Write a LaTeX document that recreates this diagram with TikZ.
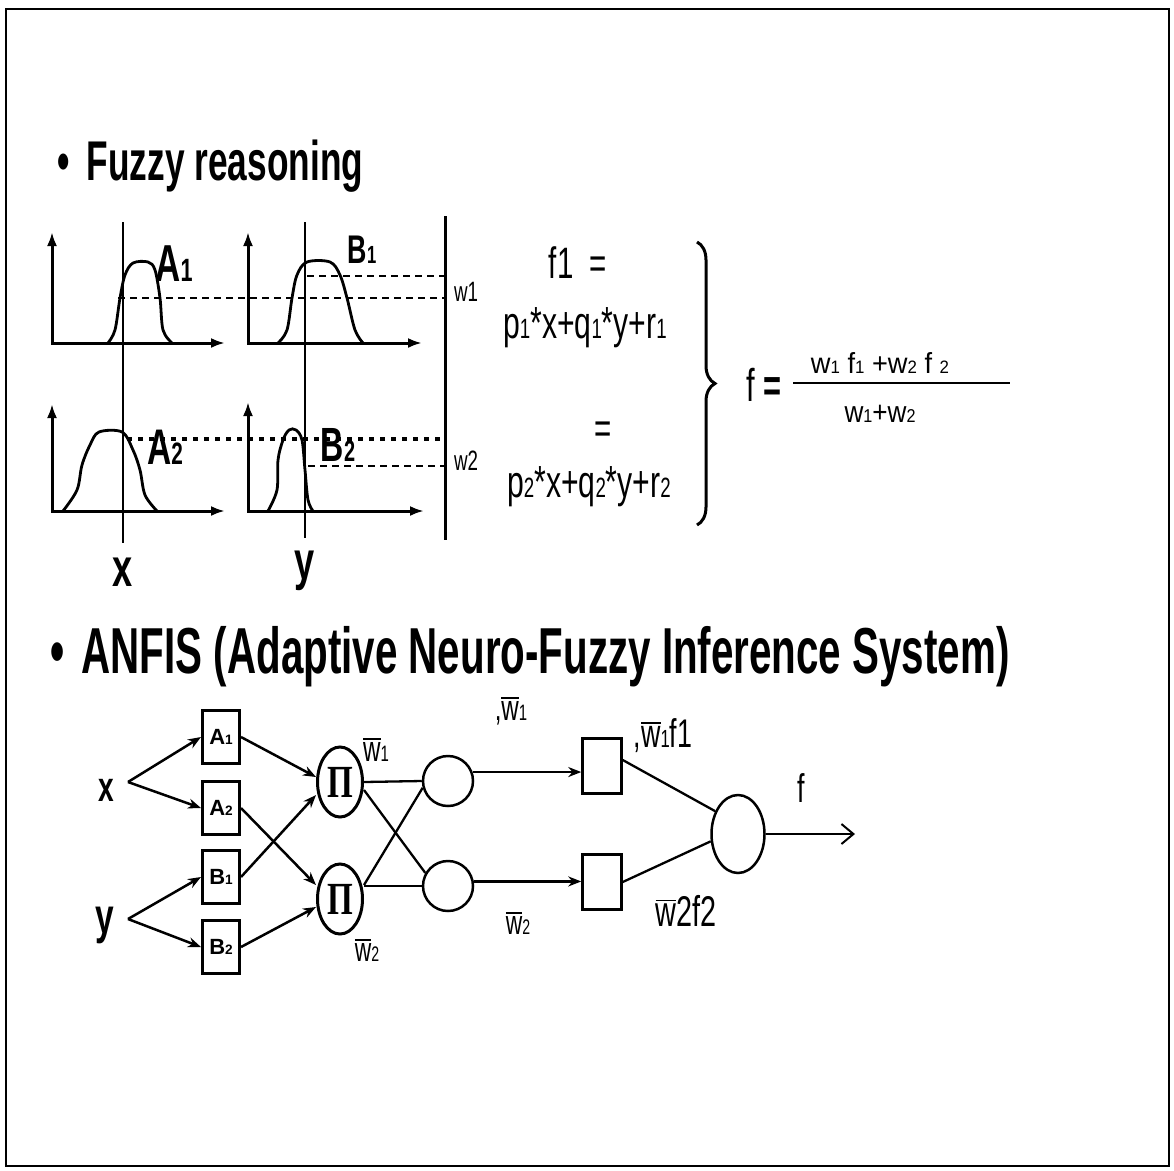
\documentclass[tikz,border=0pt]{standalone}
\usepackage{fontspec}
\setmainfont{Liberation Sans}
\newfontfamily\pifont{Liberation Serif}
\usetikzlibrary{arrows.meta,shapes.geometric,decorations.pathreplacing}
\makeatletter
\newcommand\smd[1]{{\fontsize{\fpeval{0.62*\f@size}}{1}\selectfont #1}}
\makeatother
\newcommand\barw{\leavevmode\setbox0\hbox{w}\vbox{\hrule height 1.8pt width \wd0\kern 2.5pt\box0}}
\newcommand\fs[1]{\fontsize{#1}{#1}\selectfont}
\begin{document}
\begin{tikzpicture}[x=1pt,y=-1pt,
  txt/.style={inner sep=0pt, xscale=0.67},
  hd/.style={inner sep=0pt, xscale=0.63, anchor=base west},
  ax/.style={line width=3pt, {Latex[length=14pt,width=10pt]}-{Latex[length=14pt,width=10pt]}},
  vl/.style={line width=2.5pt},
  dsh/.style={line width=2.3pt, dash pattern=on 7pt off 5pt},
  dts/.style={line width=3.5pt, dash pattern=on 5pt off 6pt},
  mf/.style={line width=2.8pt},
  inbox/.style={draw, line width=3pt, minimum width=37pt, minimum height=53pt, inner sep=0pt, font=\fs{22}\bfseries},
  pinode/.style={draw, ellipse, line width=3pt, minimum width=45pt, minimum height=70pt, inner sep=0pt},
  circ/.style={draw, circle, line width=2.5pt, minimum size=50pt, inner sep=0pt},
  sqbox/.style={draw, line width=2.5pt, minimum width=39pt, minimum height=55pt, inner sep=0pt},
  outn/.style={draw, ellipse, line width=2.5pt, minimum width=53pt, minimum height=78pt, inner sep=0pt},
  arr/.style={line width=2.5pt, -{Stealth[length=13pt,width=10pt]}},
  ln/.style={line width=2.3pt}
]
\useasboundingbox (0,0) rectangle (1174,1170);
\draw[line width=2pt] (6,9) rectangle (1169,1166);

% headings
\node[hd, font=\fs{56}\bfseries] (h1) at (57,180) {• \hspace{12pt}Fuzzy reasoning};
\node[hd, font=\fs{65}\bfseries, xscale=0.985] (h2) at (50,673) {• \hspace{10pt}ANFIS (Adaptive Neuro-Fuzzy Inference System)};

% ---------- fuzzy reasoning plots ----------
\draw[ax] (52,232) -- (52,343) -- (225,343);
\draw[ax] (248,232) -- (248,343) -- (422,343);
\draw[ax] (52,404) -- (52,511) -- (225,511);
\draw[ax] (248,402) -- (248,511) -- (424,511);
\draw[mf] plot[smooth, tension=0.55] coordinates {(108,343) (115,330) (120,298) (125,275) (133,263) (148,262) (155,270) (160,298) (163,330) (172,343)};
\draw[mf] plot[smooth, tension=0.55] coordinates {(278,343) (287,330) (292,298) (297,275) (307,262) (330,262) (340,275) (347,298) (355,330) (363,343)};
\draw[mf] plot[smooth, tension=0.55] coordinates {(63,511) (77,490) (82,465) (90,445) (99,432) (122,432) (133,450) (140,470) (145,495) (157,511)};
\draw[mf] plot[smooth, tension=0.55] coordinates {(268,511) (277,490) (278,460) (283,440) (289,430) (296,430) (302,440) (305,470) (308,500) (313,511)};
\draw[vl] (123,222) -- (123,543);
\draw[vl] (305,222) -- (305,538);
\draw[line width=3pt] (445,216) -- (445,540);
\draw[dsh] (118,298) -- (445,298);
\draw[dsh] (307,276) -- (445,276);
\draw[dts] (127,439) -- (445,439);
\draw[dsh] (308,466) -- (445,466);
\node[txt, font=\fs{52}\bfseries] (lA1) at (174,264) {A\smd{1}};
\node[txt, font=\fs{40}\bfseries] (lB1) at (362,250) {B\smd{1}};
\node[txt, font=\fs{50}\bfseries] (lA2) at (165,447) {A\smd{2}};
\node[txt, font=\fs{48}\bfseries] (lB2) at (338,445) {B\smd{2}};
\node[txt, font=\fs{28}] (lw1) at (466,292) {w1};
\node[txt, font=\fs{28}] (lw2) at (466,461) {w2};
\node[txt, font=\fs{54}\bfseries] (lx) at (123,572) {x};
\node[txt, font=\fs{54}\bfseries] (ly) at (305,571) {y};
% equations
\node[txt, font=\fs{44}] (f1) at (578,263) {f1~~=};
\node[txt, font=\fs{45}] (e1) at (585,328) {p\smd{1}*x+q\smd{1}*y+r\smd{1}};
\node[txt, font=\fs{44}] (f2) at (603,433) {=};
\node[txt, font=\fs{45}] (e2) at (589,487) {p\smd{2}*x+q\smd{2}*y+r\smd{2}};
\draw[line width=3pt, decorate, decoration={brace, amplitude=18pt}] (697,242) -- (697,525);
\node[txt, font=\fs{46}] (feq) at (764,385) {f \textbf{=}};
\draw[line width=2.2pt] (793,383) -- (1010,383);
\node[txt, font=\fs{29}, xscale=1.4] (num) at (880,363) {w\smd{1} f\smd{1} +w\smd{2} f \smd{2}};
\node[txt, font=\fs{30}, xscale=1.3] (den) at (880,414) {w\smd{1}+w\smd{2}};

% ---------- ANFIS ----------
\node[txt, font=\fs{42}\bfseries] (nx) at (106,790) {x};
\node[txt, font=\fs{50}\bfseries] (ny) at (105,925) {y};
\coordinate (xv) at (128,782);
\coordinate (yv) at (128,919);
\node[inbox] (A1) at (221,737) {A\smd{1}};
\node[inbox] (A2) at (221,808) {A\smd{2}};
\node[inbox] (B1) at (221,877) {B\smd{1}};
\node[inbox] (B2) at (221,947) {B\smd{2}};
\node[pinode] (P1) at (340,782) {\pifont\fs{46}\bfseries\scalebox{0.72}[1]{Π}};
\node[pinode] (P2) at (340,899) {\pifont\fs{46}\bfseries\scalebox{0.72}[1]{Π}};
\node[circ] (C1) at (448,781) {};
\node[circ] (C2) at (448,886) {};
\node[sqbox] (Q1) at (602,766) {};
\node[sqbox] (Q2) at (602,882) {};
\node[outn] (O) at (738,834) {};
\coordinate (fo) at (855,834);

\draw[arr] (xv) -- (A1.west);
\draw[arr] (xv) -- (A2.west);
\draw[arr] (yv) -- (B1.west);
\draw[arr] (yv) -- (B2.west);
\draw[arr] (A1.east) -- ([yshift=5pt]P1.west);
\draw[arr] (B1.east) -- ([yshift=-13pt]P1.west);
\draw[arr] (A2.east) -- ([yshift=14pt]P2.west);
\draw[arr] (B2.east) -- ([yshift=-8pt]P2.west);
\draw[ln] (P1.east) -- (C1.west);
\draw[ln] ([yshift=-8pt]P1.east) -- (C2.150);
\draw[ln] ([yshift=14pt]P2.east) -- (C1.195);
\draw[ln] (P2.east |- C2.west) -- (C2.west);
\draw[arr] (C1.20) -- (Q1.west |- C1.20);
\draw[arr] (C2.10) -- (Q2.west |- C2.10);
\draw[ln] ([yshift=6pt]Q1.east) -- (O.135);
\draw[ln] (Q2.east) -- (O.195);
\draw[line width=2pt, -{Straight Barb[length=12pt,width=20pt]}] (O.east) -- (fo);

\node[txt, font=\fs{36}] (w1a) at (376,750) {\barw\smd{1}};
\node[txt, font=\fs{34}] (w2a) at (367,950) {\barw\smd{2}};
\node[txt, font=\fs{36}] (w1b) at (511,711) {,\barw\smd{1}};
\node[txt, font=\fs{34}] (w2b) at (518,923) {\barw\smd{2}};
\node[txt, font=\fs{40}] (w1f1) at (663,736) {,\barw\smd{1}f1};
\node[txt, font=\fs{43}] (w2f2) at (686,911) {\barw2f2};
\node[txt, font=\fs{40}] (fout) at (801,788) {f};
\end{tikzpicture}
\end{document}
